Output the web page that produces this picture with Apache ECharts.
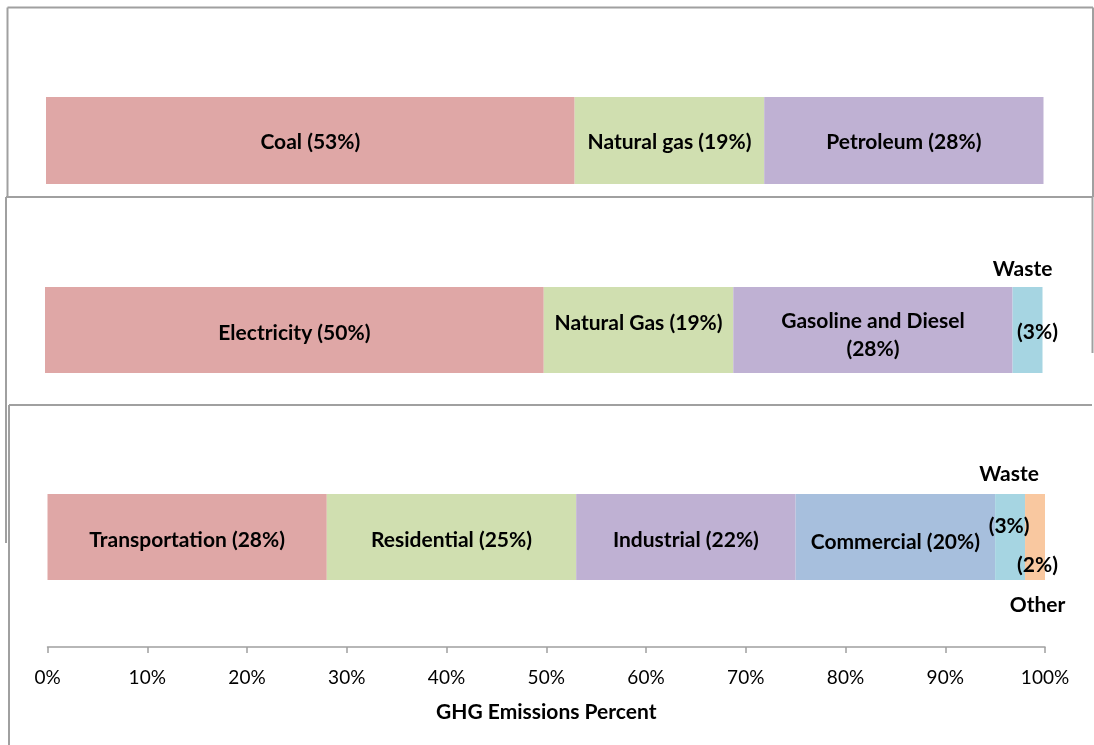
<!DOCTYPE html>
<html>
<head>
<meta charset="utf-8">
<script src="https://cdn.jsdelivr.net/npm/echarts@6/dist/echarts.min.js"></script>
<style>
html,body{margin:0;padding:0;background:#fff;}
#c{width:1094px;height:745px;}
</style>
</head>
<body>
<div id="c"></div>
<script>
// ---- data ----
const sourceNames = ['Coal', 'Natural gas', 'Petroleum'];
const sourceValues = [53, 19, 28];
const useNames = ['Electricity', 'Natural Gas', 'Gasoline and Diesel', 'Waste'];
const useValues = [50, 19, 28, 3];
const sectorNames = ['Transportation', 'Residential', 'Industrial', 'Commercial', 'Waste', 'Other'];
const sectorValues = [28, 25, 22, 20, 3, 2];
const axisTicks = [0, 10, 20, 30, 40, 50, 60, 70, 80, 90, 100];
const axisTitle = 'GHG Emissions Percent';

// ---- styles ----
const colRed = '#DFA7A6', colGreen = '#D0DFB0', colPurple = '#BFB1D3',
      colBlue = '#A7BFDD', colCyan = '#A6D5E2', colOrange = '#F9C8A0';
const panelColors = [
  [colRed, colGreen, colPurple],
  [colRed, colGreen, colPurple, colCyan],
  [colRed, colGreen, colPurple, colBlue, colCyan, colOrange]
];
const FONT = 'Lato';
const FS = 21;
const baseLabel = {show: true, position: 'inside', color: '#000', fontFamily: FONT, fontWeight: 'bold', fontSize: FS};
const panelOffsets = [[0, 2], [0, 3], [0, 3]];
// per-label tweaks (panel index -> name -> label overrides)
const labelTweaks = {
  '1|Natural Gas': {offset: [0, -7]},
  '1|Gasoline and Diesel': {formatter: 'Gasoline and Diesel\n(28%)', lineHeight: 28, offset: [0, 5]},
  '1|Waste': {formatter: '{a|Waste}\n{b|(3%)}', offset: [2.5, -29.5],
    rich: {a: {fontFamily: FONT, fontWeight: 'bold', fontSize: FS, lineHeight: 63, padding: [0, 15, 0, 0]},
           b: {fontFamily: FONT, fontWeight: 'bold', fontSize: FS, lineHeight: 63, padding: [0, 0, 0, 15]}}},
  '2|Commercial': {offset: [0, 5]},
  '2|Waste': {formatter: 'Waste\n(3%)', lineHeight: 52, offset: [-1, -37]},
  '2|Other': {formatter: '(2%)\nOther', lineHeight: 40, offset: [2.5, 48]}
};

const panels = [
  {names: sourceNames, values: sourceValues, top: 97, height: 87, left: 46},
  {names: useNames, values: useValues, top: 287, height: 86, left: 45},
  {names: sectorNames, values: sectorValues, top: 494, height: 86, left: 47.5}
];
const plotWidth = 997.5;

const grids = [], xAxes = [], yAxes = [], series = [];
panels.forEach((p, pi) => {
  grids.push({left: p.left, top: p.top, width: plotWidth, height: p.height, containLabel: false});
  const isLast = pi === panels.length - 1;
  xAxes.push({
    type: 'value', gridIndex: pi, min: 0, max: 100, interval: 10,
    show: isLast, offset: 67,
    axisLine: {show: true, lineStyle: {color: '#A0A0A0', width: 1.5}},
    axisTick: {show: true, length: 6, lineStyle: {color: '#A0A0A0', width: 1.5}},
    splitLine: {show: false},
    axisLabel: {margin: 21, color: '#000', fontFamily: FONT, fontSize: 19,
      formatter: v => axisTicks.includes(v) ? v + '%' : ''},
    name: isLast ? axisTitle : '', nameLocation: 'middle', nameGap: 55,
    nameTextStyle: {color: '#000', fontFamily: FONT, fontWeight: 'bold', fontSize: FS}
  });
  yAxes.push({type: 'category', gridIndex: pi, data: ['x'], show: false});
  p.names.forEach((n, i) => {
    const tw = labelTweaks[pi + '|' + n] || {};
    series.push({
      type: 'bar', name: n, xAxisIndex: pi, yAxisIndex: pi, stack: 'p' + pi,
      barWidth: '100%', data: [p.values[i]],
      itemStyle: {color: panelColors[pi][i]},
      label: Object.assign({}, baseLabel, {formatter: n + ' (' + p.values[i] + '%)', offset: panelOffsets[pi]}, tw),
      emphasis: {disabled: true}, silent: true, animation: false
    });
  });
});

const border = '#A0A0A0';
const ls = {stroke: border, lineWidth: 2};
const line = (x1, y1, x2, y2) => ({type: 'line', shape: {x1, y1, x2, y2}, style: ls, silent: true});
const graphic = [
  // panel 1
  line(7.5, 7.5, 1093, 7.5), line(7.5, 7.5, 7.5, 197), line(1093, 7.5, 1093, 197),
  // panel 2
  line(6, 197, 1093, 197), line(6, 197, 6, 543), line(1092.5, 197, 1092.5, 353),
  // panel 3
  line(9, 405, 1092, 405), line(9, 405, 9, 745)
];

const chart = echarts.init(document.getElementById('c'), null, {renderer: 'canvas'});
chart.setOption({
  backgroundColor: '#fff', animation: false,
  grid: grids, xAxis: xAxes, yAxis: yAxes, series: series, graphic: graphic
});
</script>
</body>
</html>
